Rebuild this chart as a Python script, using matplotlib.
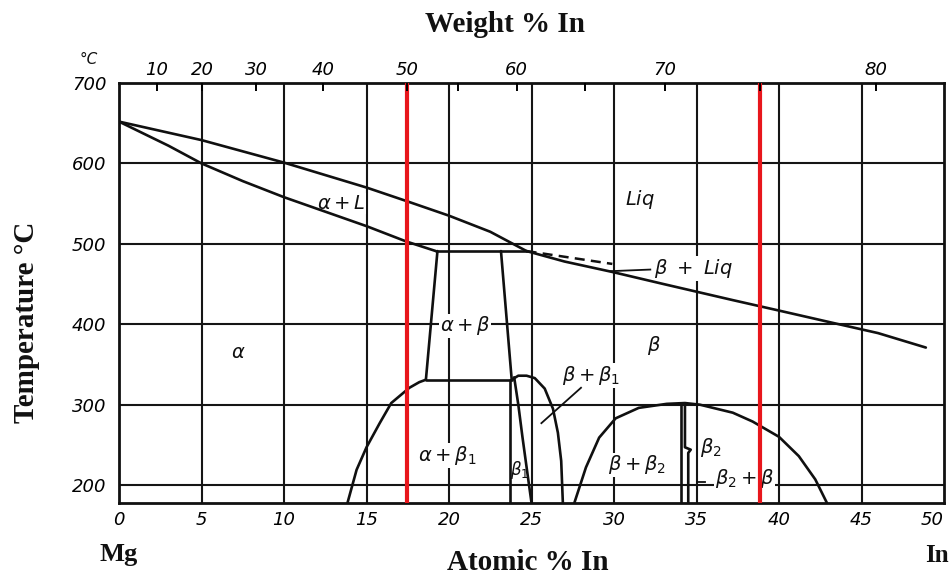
import matplotlib
matplotlib.use('Agg')
import matplotlib.pyplot as plt

plt.rcParams['mathtext.fontset'] = 'dejavusans'

# ---------------- data ----------------
at_ticks = [0, 5, 10, 15, 20, 25, 30, 35, 40, 45, 50]
temp_ticks = [200, 300, 400, 500, 600, 700]
wt_ticks = [10, 20, 30, 40, 50, 60, 70, 80]
wt_minor = [55, 65, 75]
red_wt = [50, 75]

# alpha liquidus
liqA_x = [0, 5, 10, 15, 17.45, 20, 22.5, 24.7]
liqA_T = [652, 629, 601, 570, 553, 535, 515, 491]
# alpha solidus
solA_x = [0, 1.5, 3, 5, 7.5, 10, 12.5, 15, 17.4, 19.2]
solA_T = [652, 637, 622, 600, 578, 558, 540, 522, 503, 491]
# beta liquidus
liqB_x = [24.7, 27, 29.9, 33, 37.2, 40, 43.2, 46, 48.9]
liqB_T = [491, 478, 465, 450, 430, 417, 402, 389, 371]
# dashed line
dash_x = [24.7, 29.9]
dash_T = [491, 475]
# eutectic horizontal
eut_x = [19.2, 24.7]
eut_T = [491, 491]
# alpha+beta box
abL_x = [19.3, 18.6]
abL_T = [491, 331]
abR_x = [23.15, 23.8]
abR_T = [491, 331]
abB_x = [18.6, 23.8]
abB_T = [331, 331]
# alpha solvus
solv_x = [18.6, 18.2, 17.6, 16.5, 15.8, 15.0, 14.4, 13.85]
solv_T = [331, 328, 321, 302, 277, 247, 219, 178]
# beta1 boundaries
b1L_x = [23.7, 23.7]
b1L_T = [331, 178]
b1R_x = [23.95, 24.2, 24.45, 24.75, 25.0]
b1R_T = [334, 300, 260, 215, 178]
# beta + beta1 dome
dome1_x = [23.8, 24.2, 24.7, 25.2, 25.8, 26.3, 26.6, 26.8, 26.9]
dome1_T = [331, 336, 336, 333, 320, 295, 265, 230, 178]
# beta + beta2 dome
dome2_x = [27.6, 28.3, 29.1, 30.1, 31.5, 33.2, 34.3, 35.2, 37.2, 38.4, 40.0, 41.2, 42.2, 42.9]
dome2_T = [178, 222, 259, 283, 296, 301, 302, 300, 290, 279, 260, 236, 207, 178]
# beta2 narrow region
b2L_x = [34.05, 34.05]
b2L_T = [301, 178]
b2R_x = [34.3, 34.3, 34.65, 34.5, 34.5]
b2R_T = [300, 247, 244, 240, 178]

# labels: (text, x, T, ha, boxed)
labels = [
    (r'$\alpha + L$', 13.45, 550, 'center', True),
    (r'$Liq$', 31.6, 555, 'center', True),
    (r'$\beta\ +\ Liq$', 32.4, 469, 'left', True),
    (r'$\alpha$', 7.2, 365, 'center', True),
    (r'$\alpha + \beta$', 20.97, 398, 'center', True),
    (r'$\alpha + \beta_1$', 19.9, 237, 'center', True),
    (r'$\beta_1$', 24.3, 219, 'center', False),
    (r'$\beta$', 32.4, 373, 'center', True),
    (r'$\beta + \beta_1$', 28.6, 336, 'center', True),
    (r'$\beta + \beta_2$', 31.4, 225, 'center', True),
    (r'$\beta_2$', 35.9, 247, 'center', True),
    (r'$\beta_2 + \beta$', 37.9, 208, 'center', True),
]
leaders = [
    ([29.8, 32.2], [466, 468]),   # beta + Liq
    ([25.6, 28.0], [277, 321]),   # beta + beta1
    ([35.0, 35.5], [204, 204]),   # beta2 + beta
]

M_MG, M_IN = 24.305, 114.818


def wt_to_at(w):
    a = w / M_IN
    b = (100 - w) / M_MG
    return 100 * a / (a + b)


# ---------------- figure ----------------
fig = plt.figure(figsize=(9.52, 5.75), dpi=100)
ax = fig.add_axes([119 / 952, 1 - 503 / 575, (944 - 119) / 952, (503 - 83) / 575])
ax.set_xlim(0, 50)
ax.set_ylim(177.7, 700)

gcol = '#151515'
for xv in at_ticks[1:-1]:
    ax.axvline(xv, color=gcol, lw=1.5, zorder=1)
for tv in temp_ticks[:-1]:
    ax.axhline(tv, color=gcol, lw=1.5, zorder=1)

ck = dict(color='#101010', lw=1.9, zorder=4, solid_capstyle='round')
for xs, ts in [(liqA_x, liqA_T), (solA_x, solA_T), (liqB_x, liqB_T), (eut_x, eut_T),
               (abL_x, abL_T), (abR_x, abR_T), (abB_x, abB_T), (solv_x, solv_T),
               (b1L_x, b1L_T), (b1R_x, b1R_T), (dome1_x, dome1_T), (dome2_x, dome2_T),
               (b2L_x, b2L_T), (b2R_x, b2R_T)]:
    ax.plot(xs, ts, **ck)
ax.plot(dash_x, dash_T, color='#101010', lw=1.8, ls=(0, (4, 2.5)), zorder=4)
for xs, ts in leaders:
    ax.plot(xs, ts, color='#101010', lw=1.3, zorder=4)

for txt, x, t, ha, boxed in labels:
    kw = dict(bbox=dict(facecolor='white', edgecolor='none', pad=0.6)) if boxed else {}
    ax.text(x, t, txt, ha=ha, va='center', fontsize=14 if boxed else 12,
            color='#111111', zorder=3 if boxed else 5, **kw)

for w in red_wt:
    ax.axvline(wt_to_at(w), color='#e8161c', lw=3.0, zorder=6)

tick_font = dict(family='DejaVu Sans', style='italic', size=13)
ax.set_xticks(at_ticks)
xl = ax.set_xticklabels([str(v) for v in at_ticks], fontdict=tick_font)
xl[-1].set_horizontalalignment('right')
ax.set_yticks(temp_ticks)
ax.set_yticklabels([str(v) for v in temp_ticks], fontdict=tick_font)
ax.tick_params(axis='x', length=0, pad=6)
ax.tick_params(axis='y', length=0, pad=9)
for s in ax.spines.values():
    s.set_linewidth(2.0)
    s.set_color('#111111')

ax2 = ax.twiny()
ax2.set_xlim(0, 50)
ax2.set_xticks([wt_to_at(w) for w in wt_ticks])
ax2.set_xticklabels([str(v) for v in wt_ticks], fontdict=tick_font)
ax2.set_xticks([wt_to_at(w) for w in wt_minor], minor=True)
ax2.tick_params(axis='x', which='both', direction='in', length=6, width=1.4, pad=3)
for s in ax2.spines.values():
    s.set_visible(False)

serif = dict(family='Liberation Serif', weight='bold', color='#111111')
fig.text(505 / 952, 1 - 25 / 575, 'Weight % In', ha='center', va='center', fontsize=21, **serif)
fig.text(528 / 952, 1 - 563 / 575, 'Atomic % In', ha='center', va='center', fontsize=21, **serif)
fig.text(27 / 952, 1 - 322 / 575, 'Temperature °C', ha='center', va='center', rotation=90,
         fontsize=21, **serif)
fig.text(119 / 952, 1 - 554 / 575, 'Mg', ha='center', va='center', fontsize=19, **serif)
fig.text(937 / 952, 1 - 556 / 575, 'In', ha='center', va='center', fontsize=18, **serif)
fig.text(89 / 952, 1 - 60 / 575, '°C', ha='center', va='center', family='DejaVu Sans',
         style='italic', fontsize=11, color='#111111')

fig.savefig('out.png', dpi=100)
